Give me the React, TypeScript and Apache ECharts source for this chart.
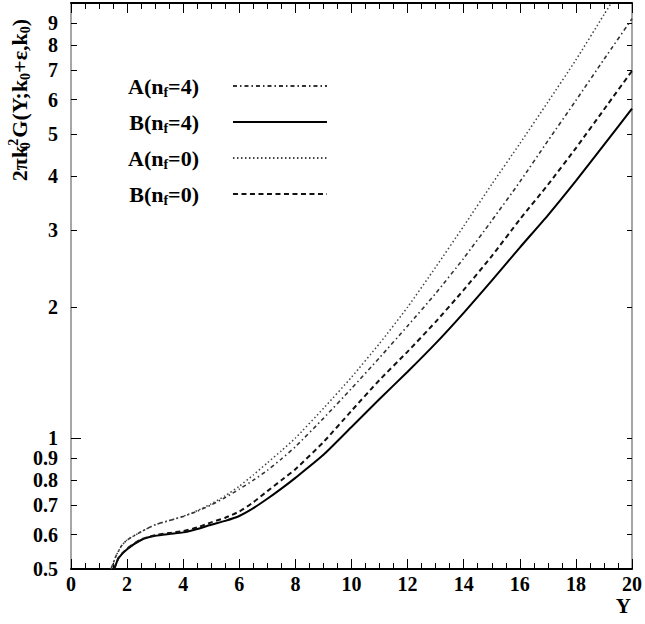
import React, { useEffect, useRef } from "react";
import * as echarts from "echarts";

// Rapidity values (x) for the A curves and the B curves
const yA = [1.43, 1.6, 1.8, 2, 2.5, 3, 3.5, 4, 4.5, 5, 5.5, 6, 6.5, 7, 7.5, 8, 9, 10, 11, 12, 13, 14, 15, 16, 17, 18, 19, 20];
const yB = [1.54, 1.7, 2, 2.5, 3, 3.5, 4, 4.5, 5, 5.5, 6, 6.5, 7, 7.5, 8, 9, 10, 11, 12, 13, 14, 15, 16, 17, 18, 19, 20];

// Curve values
const valA4 = [0.5, 0.535, 0.565, 0.583, 0.609, 0.632, 0.646, 0.66, 0.679, 0.702, 0.73, 0.763, 0.8, 0.843, 0.895, 0.955, 1.11, 1.30, 1.53, 1.81, 2.15, 2.59, 3.16, 3.88, 4.82, 5.97, 7.42, 9.2];
const valA0 = [0.5, 0.535, 0.565, 0.583, 0.609, 0.632, 0.646, 0.661, 0.681, 0.706, 0.737, 0.775, 0.823, 0.877, 0.935, 1.0, 1.17, 1.38, 1.65, 2.0, 2.47, 3.07, 3.83, 4.75, 5.92, 7.4, 9.4, 11.9];
const valB4 = [0.5, 0.53, 0.555, 0.583, 0.596, 0.602, 0.607, 0.618, 0.632, 0.645, 0.662, 0.69, 0.725, 0.765, 0.81, 0.915, 1.06, 1.23, 1.42, 1.65, 1.94, 2.30, 2.74, 3.25, 3.9, 4.72, 5.72];
const valB0 = [0.5, 0.531, 0.557, 0.585, 0.598, 0.605, 0.611, 0.623, 0.64, 0.656, 0.678, 0.712, 0.755, 0.8, 0.848, 0.979, 1.155, 1.36, 1.58, 1.85, 2.19, 2.62, 3.18, 3.82, 4.64, 5.69, 6.98];

// Tick labels
const yLabelValues = [0.5, 0.6, 0.7, 0.8, 0.9, 1, 2, 3, 4, 5, 6, 7, 8, 9];
const yMinorTicks = [0.6, 0.7, 0.8, 0.9, 2, 3, 4, 5, 6, 7, 8, 9];
const yMajorTicks = [1];

const seriesNames = ["A(nf=4)", "B(nf=4)", "A(nf=0)", "B(nf=0)"];
const legendRich: Record<string, string> = {
  "A(nf=4)": "A(n{sub|f}=4)",
  "B(nf=4)": "B(n{sub|f}=4)",
  "A(nf=0)": "A(n{sub|f}=0)",
  "B(nf=0)": "B(n{sub|f}=0)",
};

const FONT = "'Liberation Serif', 'Times New Roman', serif";

function pairs(xs: number[], vs: number[]) {
  return xs.map((x, i) => [x, vs[i]]);
}

export default function App() {
  const ref = useRef<HTMLDivElement>(null);
  useEffect(() => {
    if (!ref.current) return;
    const chart = echarts.init(ref.current, null, { renderer: "svg" });
    const grid = { left: 71, top: 3, width: 564, height: 566 };
    const labelStyle = {
      fontFamily: FONT,
      fontWeight: "bold" as const,
      fontSize: 20,
      color: "#000",
    };
    chart.setOption({
      animation: false,
      backgroundColor: "#fff",
      grid,
      legend: {
        data: seriesNames,
        orient: "vertical",
        left: 128,
        top: 75,
        padding: 0,
        align: "right",
        itemWidth: 94,
        itemHeight: 14,
        itemGap: 12,
        selectedMode: false,
        itemStyle: { opacity: 0 },
        formatter: (name: string) => legendRich[name] || name,
        textStyle: {
          fontFamily: FONT,
          fontWeight: "bold",
          fontSize: 22,
          color: "#000",
          padding: [0, 29, 0, 0],
          rich: {
            sub: {
              fontFamily: FONT,
              fontWeight: "bold",
              fontSize: 14,
              color: "#000",
              padding: [12, 0, 0, 0],
            },
          },
        },
      },
      xAxis: [
        {
          type: "value",
          min: 0,
          max: 20,
          interval: 2,
          position: "bottom",
          name: "Y",
          nameLocation: "end",
          nameGap: -1,
          nameTextStyle: {
            fontFamily: FONT,
            fontWeight: "bold",
            fontSize: 21,
            color: "#000",
            align: "right",
            verticalAlign: "top",
            padding: [26, 0, 0, 0],
          },
          axisLine: { show: true, lineStyle: { color: "#000", width: 2 } },
          axisTick: { show: true, inside: true, length: 10, lineStyle: { color: "#000", width: 1 } },
          minorTick: { show: true, splitNumber: 4, length: 6, lineStyle: { color: "#000", width: 1 } },
          axisLabel: { ...labelStyle, margin: 5 },
          splitLine: { show: false },
        },
        {
          type: "value",
          min: 0,
          max: 20,
          interval: 2,
          position: "top",
          axisLine: { show: true, lineStyle: { color: "#000", width: 2 } },
          axisTick: { show: true, inside: true, length: 10, lineStyle: { color: "#000", width: 1 } },
          minorTick: { show: true, splitNumber: 4, length: 6, lineStyle: { color: "#000", width: 1 } },
          axisLabel: { show: false },
          splitLine: { show: false },
        },
      ],
      yAxis: [
        {
          type: "log",
          logBase: 10,
          min: 0.5,
          max: 10,
          position: "left",
          axisLine: { show: true, lineStyle: { color: "#888", width: 1.5 } },
          axisTick: {
            show: true,
            inside: true,
            length: 6,
            customValues: yMinorTicks,
            lineStyle: { color: "#000", width: 1 },
          },
          axisLabel: {
            ...labelStyle,
            margin: 13,
            customValues: yLabelValues,
            formatter: (v: number) => String(Math.round(v * 10) / 10),
          },
          splitLine: { show: false },
          minorTick: { show: false },
        },
        {
          type: "log",
          logBase: 10,
          min: 0.5,
          max: 10,
          position: "left",
          axisLine: { show: false },
          axisTick: {
            show: true,
            inside: true,
            length: 10,
            customValues: yMajorTicks,
            lineStyle: { color: "#000", width: 1 },
          },
          axisLabel: { show: false },
          splitLine: { show: false },
        },
        {
          type: "log",
          logBase: 10,
          min: 0.5,
          max: 10,
          position: "right",
          axisLine: { show: true, lineStyle: { color: "#888", width: 1.5 } },
          axisTick: {
            show: true,
            inside: true,
            length: 5,
            customValues: yLabelValues,
            lineStyle: { color: "#000", width: 1 },
          },
          axisLabel: { show: false },
          splitLine: { show: false },
        },
      ],
      graphic: [
        {
          type: "text",
          x: 19,
          y: 100,
          rotation: Math.PI / 2,
          style: {
            text: "2πk{sb|0}{sp|2}G(Y;k{sb2|0}+ε,k{sb2|0})",
            fontFamily: FONT,
            fontWeight: "bold",
            fontSize: 22,
            fill: "#000",
            align: "center",
            verticalAlign: "middle",
            rich: {
              sb: { fontFamily: FONT, fontWeight: "bold", fontSize: 14, padding: [12, 0, 0, 0], width: 0.1 },
              sp: { fontFamily: FONT, fontWeight: "bold", fontSize: 14, padding: [0, 1, 12, 0] },
              sb2: { fontFamily: FONT, fontWeight: "bold", fontSize: 14, padding: [12, 0, 0, 0] },
            },
          },
        },
      ],
      series: [
        {
          name: "A(nf=4)",
          type: "line",
          data: pairs(yA, valA4),
          showSymbol: false,
          symbol: "none",
          smooth: 0.2,
          lineStyle: { color: "#333", width: 1.6, type: [4, 3, 1.5, 3] },
        },
        {
          name: "B(nf=4)",
          type: "line",
          data: pairs(yB, valB4),
          showSymbol: false,
          symbol: "none",
          smooth: 0.2,
          lineStyle: { color: "#000", width: 2, type: "solid" },
        },
        {
          name: "A(nf=0)",
          type: "line",
          data: pairs(yA, valA0),
          showSymbol: false,
          symbol: "none",
          smooth: 0.2,
          lineStyle: { color: "#444", width: 1.5, type: [1.5, 2.5] },
        },
        {
          name: "B(nf=0)",
          type: "line",
          data: pairs(yB, valB0),
          showSymbol: false,
          symbol: "none",
          smooth: 0.2,
          lineStyle: { color: "#111", width: 2, type: [5, 3.5] },
        },
      ],
    });
    return () => chart.dispose();
  }, []);
  return (
    <div
      ref={ref}
      style={{ position: "absolute", left: 0, top: 0, width: 645, height: 624 }}
    />
  );
}
